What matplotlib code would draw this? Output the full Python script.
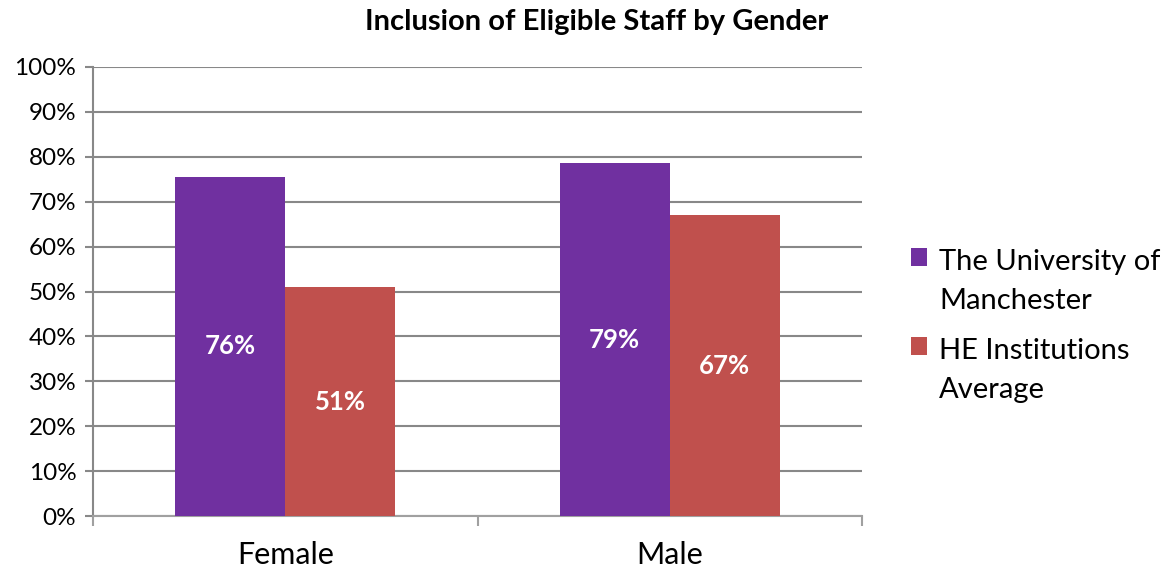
import matplotlib.pyplot as plt
import matplotlib.patches as mpatches
from matplotlib.container import BarContainer
from matplotlib.legend_handler import HandlerPatch, update_from_first_child
import numpy as np

categories = ['Female', 'Male']
series_names = ['The University of\nManchester', 'HE Institutions\nAverage']
uom_values = [75.6, 78.6]
he_values = [51.0, 67.0]
uom_labels = ['76%', '79%']
he_labels = ['51%', '67%']

plt.rcParams['font.family'] = ['Lato', 'DejaVu Sans']

fig = plt.figure(figsize=(11.67, 5.74), dpi=100)
ax = fig.add_axes([0.0797, 0.101, 0.659, 0.7823])

x = np.arange(len(categories))
w = 0.286
grid_col = '#888888'

b1 = ax.bar(x - w / 2, uom_values, w, color='#7030A0', label=series_names[0], zorder=3)
b2 = ax.bar(x + w / 2, he_values, w, color='#C0504D', label=series_names[1], zorder=3)

for bars, labs in [(b1, uom_labels), (b2, he_labels)]:
    for rect, lab in zip(bars, labs):
        ax.text(rect.get_x() + rect.get_width() / 2, rect.get_height() / 2, lab,
                ha='center', va='center', color='white', fontsize=18.5,
                fontweight='bold', zorder=4)

ax.set_xlim(-0.5, 1.5)
ax.set_ylim(0, 100)
ax.set_yticks(np.arange(0, 101, 10))
ax.set_yticklabels([f'{v}%' for v in range(0, 101, 10)], fontsize=17.5)
ax.yaxis.grid(True, color=grid_col, linewidth=1.5, zorder=0)
ax.set_xticks([-0.5, 0.5, 1.5])
ax.set_xticklabels([])
ax.set_xticks(x, minor=True)
ax.set_xticklabels(categories, minor=True, fontsize=22)
ax.tick_params(axis='x', which='major', length=7, width=1.5, color='#A0A0A0')
ax.tick_params(axis='x', which='minor', length=0, pad=18)
ax.tick_params(axis='y', length=6, width=1.5, color=grid_col, pad=6)

for s in ['top', 'right']:
    ax.spines[s].set_visible(False)
ax.spines['left'].set_color(grid_col)
ax.spines['left'].set_linewidth(1.5)
ax.spines['bottom'].set_color('#A0A0A0')
ax.spines['bottom'].set_linewidth(1.5)

fig.text(0.5116, 0.962, 'Inclusion of Eligible Staff by Gender', ha='center', va='center',
         fontsize=21, fontweight='bold')


# put the legend square next to the first line of each label, like Excel does
def top_square(legend, orig_handle, xdescent, ydescent, width, height, fontsize):
    return mpatches.Rectangle((-xdescent, -ydescent + 0.85 * fontsize), width, height)


leg = fig.legend(loc='center left', bbox_to_anchor=(0.781, 0.432), frameon=False,
                 fontsize=21, handlelength=0.55, handleheight=0.55, handletextpad=0.4,
                 labelspacing=0.81, borderpad=0, borderaxespad=0,
                 handler_map={BarContainer: HandlerPatch(patch_func=top_square,
                                                         update_func=update_from_first_child)})
for t in leg.get_texts():
    t.set_linespacing(1.62)

fig.savefig('out.png', dpi=100)
